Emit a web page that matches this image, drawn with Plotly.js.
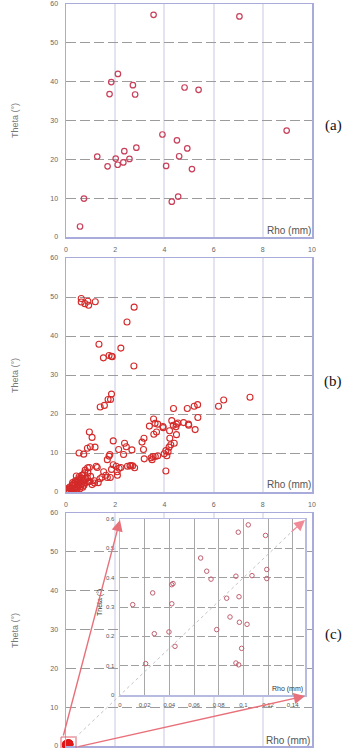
<!DOCTYPE html>
<html>
<head>
<meta charset="utf-8">
<script src="https://cdn.plot.ly/plotly-3.0.1.min.js"></script>
<style>html,body{margin:0;padding:0;background:#fff;}#chart{width:349px;height:748px;}</style>
</head>
<body>
<div id="chart"></div>
<script>
// ---- Data ----
const rhoA   = [0.57,0.73,1.27,1.69,1.77,1.84,2.02,2.10,2.11,2.33,2.37,2.58,2.72,2.81,2.86,3.56,3.92,4.07,4.30,4.51,4.56,4.60,4.82,4.93,5.12,5.39,7.05,8.97];
const thetaA = [2.7,9.9,20.7,18.2,36.8,39.9,20.2,18.6,42.0,19.2,22.1,20.1,39.1,36.7,23.0,57.2,26.4,18.3,9.1,24.9,10.4,20.8,38.5,22.8,17.5,37.9,56.8,27.4];

const rhoB = [0.62,0.62,0.77,0.89,0.92,1.19,2.77,2.48,1.34,2.23,1.75,1.85,1.88,1.52,2.76,
  1.39,1.56,1.71,1.81,1.85,
  0.95,1.06,0.87,0.99,1.18,0.53,0.72,1.92,1.75,1.78,1.68,
  2.14,2.38,2.45,2.34,2.68,3.17,3.09,3.15,3.18,3.39,3.56,3.62,3.73,3.68,3.57,3.46,3.50,3.54,3.63,3.73,
  3.94,3.95,4.06,4.10,4.15,4.21,4.22,4.26,4.30,4.36,4.40,4.37,4.47,4.49,4.55,4.49,4.06,4.19,3.99,
  4.78,4.93,4.98,4.99,5.21,5.25,5.35,5.36,6.20,6.41,7.48,
  1.92,1.85,2.04,2.08,2.09,2.16,2.23,2.50,2.60,2.64,2.71,2.79,
  1.23,1.27,1.53,1.62,1.68,1.80,1.46,1.38,1.15,0.88,0.95,0.78,0.89,0.76,0.64,0.53,0.42,1.00,0.87,0.89,
  1.16,1.31,1.06,0.73,0.57,0.46,0.37,0.27,0.16,0.09,0.05,0.19,0.30,0.43,0.54,0.65,0.57,0.41,0.23,0.14,
  0.70,0.81,0.51,0.38,0.27,0.62,0.78,0.97,
  0.20,0.25,0.33,0.35,0.48,0.50,0.60,0.68,0.10,0.12,0.30,0.45,0.55,0.70,0.75];
const thetaB = [49.6,48.7,48.3,48.9,47.9,48.8,47.4,43.6,37.9,36.9,35.0,34.8,34.7,34.4,32.3,
  21.8,22.2,23.7,23.7,25.1,
  15.4,14.0,11.2,11.6,11.5,10.0,9.7,13.1,9.2,9.6,8.3,
  10.9,12.5,11.6,9.6,10.8,13.8,12.8,10.9,8.5,16.9,18.7,17.6,17.4,15.4,14.8,8.8,8.3,9.1,9.1,9.3,
  16.8,16.5,10.6,9.3,10.3,15.7,13.8,12.1,18.3,17.1,12.5,21.4,16.7,14.7,17.7,17.4,5.4,11.5,9.8,
  17.8,21.4,17.4,17.1,22.0,16.0,22.4,19.1,22.0,23.6,24.3,
  7.0,5.8,6.6,5.2,4.3,6.1,6.3,6.6,6.7,6.8,6.7,6.2,
  6.6,6.3,5.2,4.3,3.7,3.7,3.8,3.4,2.9,6.2,6.3,5.6,4.9,4.9,4.3,3.9,4.1,4.0,3.6,2.6,
  2.3,2.4,1.9,1.7,2.6,2.4,1.9,1.7,1.3,0.7,0.3,0.85,1.1,1.3,1.7,2.1,0.85,0.6,0.3,0.2,
  2.9,3.4,3.1,2.9,2.4,3.4,2.4,2.7,
  1.0,1.8,2.2,0.8,1.0,2.0,1.4,1.2,0.5,1.1,0.4,2.8,3.5,4.4,3.0];

const rhoC   = [0.0103,0.0208,0.0265,0.0278,0.0397,0.0419,0.0430,0.0420,0.0446,0.0654,0.0703,0.0738,0.0784,0.0865,0.0892,0.0940,0.0959,0.0965,0.0968,0.0940,0.0962,0.0986,0.1030,0.1040,0.1070,0.1180,0.1190,0.1190];
const thetaC = [0.308,0.107,0.348,0.209,0.215,0.376,0.380,0.311,0.166,0.467,0.422,0.395,0.223,0.330,0.266,0.405,0.555,0.335,0.248,0.109,0.103,0.159,0.241,0.580,0.407,0.544,0.428,0.397];

const mainXTicks = [0,2,4,6,8,10];
const mainYTicks = [0,10,20,30,40,50,60];
const insetXTicks = [0,0.02,0.04,0.06,0.08,0.1,0.12,0.14];
const insetYTicks = [0,0.1,0.2,0.3,0.4,0.5,0.6];
const panelLabels = ['(a)','(b)','(c)'];

// ---- Layout helpers ----
const W = 349, H = 748;
const px = v => v / W;
const py = v => 1 - v / H;
const xd = (a, b) => [px(a), px(b)];
const yd = (top, bottom) => [py(bottom), py(top)];

const FONT = 'Liberation Sans, Arial, sans-serif';
const frame = {showline:true, mirror:true, linecolor:'#a9acda', linewidth:1.5, zeroline:false, fixedrange:true, ticks:'', ticklabelstandoff:5, ticklabeloverflow:'allow'};

function mainX(anchor, dom, labels) {
  return Object.assign({}, frame, {anchor, domain: dom, range:[0,10], tickvals: mainXTicks, showticklabels: labels,
    showgrid:true, gridcolor:'#e3e4f0', gridwidth:2, tickfont:{size:7, color:'#666', family:FONT}});
}
function mainY(anchor, dom) {
  return Object.assign({}, frame, {anchor, domain: dom, range:[0,60], tickvals: mainYTicks,
    showgrid:true, gridcolor:'#9c9c9c', gridwidth:1, griddash:'10px,4px', tickfont:{size:7, color:'#666', family:FONT}});
}

const X = xd(66, 312);
const dA = yd(4, 237), dB = yd(258, 492), dC = yd(513, 746);
const inX = xd(120, 305), inY = yd(519, 695);

const traces = [
  {x: rhoA, y: thetaA, xaxis:'x', yaxis:'y', type:'scatter', mode:'markers',
   marker:{symbol:'circle-open', size:5.5, color:'#c8405a', line:{width:1.2}}},
  {x: rhoB, y: thetaB, xaxis:'x2', yaxis:'y2', type:'scatter', mode:'markers',
   marker:{symbol:'circle-open', size:6, color:'#d42a2a', line:{width:1.1}}},
  {x: rhoC, y: thetaC, xaxis:'x3', yaxis:'y3', type:'scatter', mode:'markers', cliponaxis:false,
   marker:{symbol:'circle', size:9, color:'#e01818'}},
  {x: rhoC, y: thetaC, xaxis:'x4', yaxis:'y4', type:'scatter', mode:'markers',
   marker:{symbol:'circle-open', size:4.5, color:'#c06070', line:{width:1}}}
];

const annotations = [];
function ann(text, x, y, opts) {
  annotations.push(Object.assign({text, x: px(x), y: py(y), xref:'paper', yref:'paper', showarrow:false,
    xanchor:'center', yanchor:'middle'}, opts));
}
// y titles
[120, 375, 630].forEach(yc => ann('Theta (°)', 15, yc, {textangle:-90, font:{size:9, color:'#777', family:FONT}}));
// x titles inside
[[289,230],[289,484],[288,740]].forEach(p => ann('Rho (mm)', p[0], p[1], {font:{size:10, color:'#555', family:FONT}}));
// panel labels
[[333,125],[333,381],[333,634]].forEach((p,i) => ann(panelLabels[i], p[0], p[1], {font:{size:15, color:'#111', family:'Liberation Serif, Times New Roman, serif'}}));
// inset titles
ann('Rho (mm)', 287, 689, {font:{size:7, color:'#333', family:FONT}});
ann('Theta (°)', 100, 603, {textangle:-90, font:{size:7, color:'#333', family:FONT}});

// arrows (decoration connecting the zoom box to the inset)
function arrow(tx, ty, hx, hy, color, w, size) {
  annotations.push({text:'', x: px(hx), y: py(hy), ax: px(tx), ay: py(ty), xref:'paper', yref:'paper',
    axref:'paper', ayref:'paper', showarrow:true, arrowhead:2, arrowsize:size, arrowwidth:w, arrowcolor:color});
}
arrow(63, 737, 120, 520, '#e8707a', 1.4, 1.6);
arrow(77, 747, 305, 696, '#e8707a', 1.4, 1.6);
arrow(290, 533, 305, 520, '#f08a96', 1.2, 1.8);

const shapes = [
  {type:'rect', xref:'paper', yref:'paper', x0: px(61), x1: px(76), y0: py(749), y1: py(737),
   line:{color:'#e06070', width:1}, layer:'above'},
  {type:'line', xref:'paper', yref:'paper', x0: px(75), y0: py(738), x1: px(303), y1: py(521),
   line:{color:'#c4c4c4', width:1, dash:'dot'}, layer:'above'}
];

const layout = {
  width: W, height: H, margin:{l:0, r:0, t:0, b:0},
  paper_bgcolor:'#fff', plot_bgcolor:'#fff', showlegend:false,
  font:{family:FONT},
  xaxis: mainX('y', X, true), yaxis: mainY('x', dA),
  xaxis2: mainX('y2', X, true), yaxis2: mainY('x2', dB),
  xaxis3: mainX('y3', X, false), yaxis3: mainY('x3', dC),
  xaxis4: Object.assign({}, frame, {anchor:'y4', domain: inX, range:[0,0.15], tickvals: insetXTicks,
    showgrid:true, gridcolor:'#a8a8a8', gridwidth:1, linecolor:'#b8bbe0', tickfont:{size:6, color:'#555', family:FONT}, ticklabelstandoff:3}),
  yaxis4: Object.assign({}, frame, {anchor:'x4', domain: inY, range:[0,0.6], tickvals: insetYTicks,
    showgrid:true, gridcolor:'#a0a0a0', gridwidth:1, griddash:'8px,3px', linecolor:'#b8bbe0', tickfont:{size:6, color:'#555', family:FONT}, ticklabelstandoff:3}),
  annotations, shapes
};

Plotly.newPlot('chart', traces, layout, {staticPlot:true, displayModeBar:false});
</script>
</body>
</html>
